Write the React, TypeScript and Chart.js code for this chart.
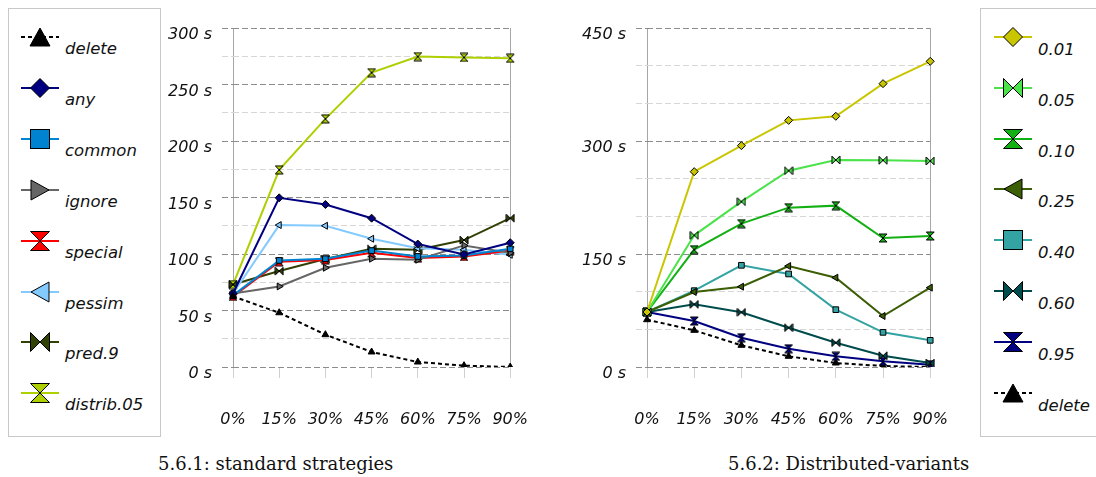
import React, { useEffect, useRef } from "react";
import { Chart, registerables } from "chart.js";
Chart.register(...registerables);

const xLabels = ["0%", "15%", "30%", "45%", "60%", "75%", "90%"];

// 5.6.1 standard strategies
const deleteVals = [62.5, 48, 28.6, 13.3, 4.4, 1.2, 0];
const anyVals = [65, 149.7, 143.8, 131.7, 108.8, 99.6, 110];
const commonVals = [63.4, 94.3, 95.8, 103, 97.8, 98.7, 104.6];
const ignoreVals = [65, 71.3, 87.8, 95.8, 94.9, 107.6, 101];
const specialVals = [62.5, 93.1, 94.6, 101, 96.4, 97.8, 103];
const pessimVals = [65, 125.6, 125, 113.5, 105, 103.7, 99.3];
const pred9Vals = [73, 84.9, 95.5, 104.6, 103.7, 112.3, 131.7];
const distrib05Vals = [73, 174.5, 219.6, 260.5, 274.7, 274, 273.2];

// 5.6.2 distributed variants
const v001 = [73, 259.3, 293.8, 327.4, 332.8, 376.1, 405.8];
const v005 = [73, 174.8, 219.5, 260.6, 274.8, 274.4, 273.5];
const v010 = [73, 155.8, 190.3, 211.5, 214.2, 171.3, 173.9];
const v025 = [73, 99.6, 106.6, 134, 118.6, 67.7, 105.3];
const v040 = [73, 101.3, 135, 123.5, 76.1, 46, 35.4];
const v060 = [73, 83.2, 72.6, 52.2, 32.3, 15, 5.3];
const v095 = [73, 61, 38.9, 24.3, 14.2, 7.5, 3.1];
const delete2Vals = [62.8, 48.7, 28.8, 14.2, 5.3, 1.3, 0];

const leftMax = 300;
const leftStep = 25;
const leftMajor = 50;
const rightMax = 450;
const rightStep = 50;
const rightMajor = 150;

type Shape = "triangle" | "diamond" | "square" | "right" | "left" | "hourglass" | "bowtie";

interface SeriesDef {
  label: string;
  data: number[];
  line: string;
  fill: string;
  shape: Shape;
  dashed?: boolean;
}

const leftSeries: SeriesDef[] = [
  { label: "delete", data: deleteVals, line: "#000000", fill: "#000000", shape: "triangle", dashed: true },
  { label: "any", data: anyVals, line: "#000080", fill: "#000080", shape: "diamond" },
  { label: "common", data: commonVals, line: "#0084d1", fill: "#0084d1", shape: "square" },
  { label: "ignore", data: ignoreVals, line: "#666666", fill: "#666666", shape: "right" },
  { label: "special", data: specialVals, line: "#ff0000", fill: "#ff0000", shape: "hourglass" },
  { label: "pessim", data: pessimVals, line: "#83caff", fill: "#83caff", shape: "left" },
  { label: "pred.9", data: pred9Vals, line: "#314004", fill: "#314004", shape: "bowtie" },
  { label: "distrib.05", data: distrib05Vals, line: "#aecf00", fill: "#aecf00", shape: "hourglass" },
];

const rightSeries: SeriesDef[] = [
  { label: "0.01", data: v001, line: "#c9c600", fill: "#c9c600", shape: "diamond" },
  { label: "0.05", data: v005, line: "#4ae34a", fill: "#4ae34a", shape: "bowtie" },
  { label: "0.10", data: v010, line: "#12b012", fill: "#12b012", shape: "hourglass" },
  { label: "0.25", data: v025, line: "#3c5e05", fill: "#3c5e05", shape: "left" },
  { label: "0.40", data: v040, line: "#33a3a3", fill: "#33a3a3", shape: "square" },
  { label: "0.60", data: v060, line: "#004c4c", fill: "#004c4c", shape: "bowtie" },
  { label: "0.95", data: v095, line: "#000080", fill: "#000080", shape: "hourglass" },
  { label: "delete", data: delete2Vals, line: "#000000", fill: "#000000", shape: "triangle", dashed: true },
];

const FONT = "'DejaVu Sans', sans-serif";

function makeMarker(kind: "hourglass" | "bowtie", fill: string, w: number, h: number) {
  const c = document.createElement("canvas");
  c.width = w + 2;
  c.height = h + 2;
  const ctx = c.getContext("2d")!;
  ctx.translate(1, 1);
  ctx.beginPath();
  if (kind === "hourglass") {
    ctx.moveTo(0, 0);
    ctx.lineTo(w, 0);
    ctx.lineTo(0, h);
    ctx.lineTo(w, h);
  } else {
    ctx.moveTo(0, 0);
    ctx.lineTo(0, h);
    ctx.lineTo(w, 0);
    ctx.lineTo(w, h);
  }
  ctx.closePath();
  ctx.fillStyle = fill;
  ctx.fill();
  ctx.lineWidth = 1;
  ctx.strokeStyle = "#000";
  ctx.stroke();
  return c;
}

function toDataset(s: SeriesDef, size: number) {
  let pointStyle: any = "circle";
  let rotation = 0;
  const radius = size;
  switch (s.shape) {
    case "triangle":
      pointStyle = "triangle";
      break;
    case "diamond":
      pointStyle = "rectRot";
      break;
    case "square":
      pointStyle = "rect";
      break;
    case "right":
      pointStyle = "triangle";
      rotation = 90;
      break;
    case "left":
      pointStyle = "triangle";
      rotation = -90;
      break;
    case "hourglass":
      pointStyle = makeMarker("hourglass", s.fill, size * 2, size * 2);
      break;
    case "bowtie":
      pointStyle = makeMarker("bowtie", s.fill, size * 2, size * 2);
      break;
  }
  return {
    label: s.label,
    data: s.data,
    borderColor: s.line,
    backgroundColor: s.fill,
    borderWidth: 2,
    borderDash: s.dashed ? [4, 3] : [],
    pointStyle,
    pointRotation: rotation,
    pointRadius: radius,
    pointHoverRadius: radius,
    pointBackgroundColor: s.fill,
    pointBorderColor: "#000",
    pointBorderWidth: 1,
    tension: 0,
    fill: false,
  };
}

function makeOptions(max: number, step: number, major: number, yWidth: number, padRight: number) {
  return {
    responsive: false,
    animation: false as const,
    events: [],
    layout: { autoPadding: false, padding: { top: 28, right: padRight, bottom: 13, left: 0 } },
    plugins: { legend: { display: false }, tooltip: { enabled: false }, title: { display: false } },
    scales: {
      x: {
        type: "category" as const,
        afterFit: (s: any) => {
          s.height = 60;
        },
        ticks: {
          padding: 32,
          maxRotation: 0,
          autoSkip: false,
          color: "#111",
          font: { family: FONT, size: 16, style: "italic" as const },
        },
        grid: {
          drawOnChartArea: true,
          drawTicks: true,
          tickLength: 11,
          color: (ctx: any) => (ctx.index === 0 || ctx.index === xLabels.length - 1 ? "#a6a6a6" : "rgba(0,0,0,0)"),
          tickColor: "#d0d0d0",
          lineWidth: 1,
        },
        border: { display: false },
      },
      y: {
        type: "linear" as const,
        min: 0,
        max,
        afterFit: (s: any) => {
          s.width = yWidth;
        },
        ticks: {
          stepSize: step,
          maxTicksLimit: 100,
          autoSkip: false,
          padding: 10,
          labelOffset: 7,
          color: "#111",
          font: { family: FONT, size: 16, style: "italic" as const },
          callback: (v: any) => (Number(v) % major === 0 ? `${v} s` : ""),
        },
        grid: {
          drawTicks: true,
          tickLength: 11,
          color: (ctx: any) => (ctx.tick && ctx.tick.value % major === 0 ? "#8c8c8c" : "#d6d6d6"),
          tickColor: (ctx: any) => (ctx.tick && ctx.tick.value % major === 0 ? "#8c8c8c" : "#d6d6d6"),
          tickBorderDash: [6, 3],
          lineWidth: 1,
        },
        border: { display: false, dash: [6, 3] },
      },
    },
  };
}

function LineChart(props: { series: SeriesDef[]; max: number; step: number; major: number; yWidth: number; padRight: number; width: number; height: number; left: number }) {
  const ref = useRef<HTMLCanvasElement | null>(null);
  useEffect(() => {
    if (!ref.current) return;
    const chart = new Chart(ref.current, {
      type: "line",
      data: { labels: xLabels, datasets: props.series.map((s) => toDataset(s, 4)) as any },
      options: makeOptions(props.max, props.step, props.major, props.yWidth, props.padRight) as any,
    });
    return () => chart.destroy();
  }, []);
  return (
    <canvas
      ref={ref}
      width={props.width}
      height={props.height}
      style={{ position: "absolute", left: props.left, top: 0, width: props.width, height: props.height }}
    />
  );
}

function Symbol(props: { s: SeriesDef }) {
  const { s } = props;
  const cx = 20;
  const cy = 11;
  const r = 9.5;
  let shape: React.ReactNode = null;
  const common = { fill: s.fill, stroke: "#000", strokeWidth: 1 };
  switch (s.shape) {
    case "triangle":
      shape = <polygon points={`${cx - 10},${cy + 9} ${cx},${cy - 9} ${cx + 10},${cy + 9}`} {...common} />;
      break;
    case "diamond":
      shape = <polygon points={`${cx},${cy - r} ${cx + r},${cy} ${cx},${cy + r} ${cx - r},${cy}`} {...common} />;
      break;
    case "square":
      shape = <rect x={cx - r} y={cy - r} width={2 * r} height={2 * r} {...common} />;
      break;
    case "right":
      shape = <polygon points={`${cx - 9},${cy - 10} ${cx + 9},${cy} ${cx - 9},${cy + 10}`} {...common} />;
      break;
    case "left":
      shape = <polygon points={`${cx + 9},${cy - 10} ${cx - 9},${cy} ${cx + 9},${cy + 10}`} {...common} />;
      break;
    case "hourglass":
      shape = <polygon points={`${cx - r},${cy - r} ${cx + r},${cy - r} ${cx - r},${cy + r} ${cx + r},${cy + r}`} {...common} />;
      break;
    case "bowtie":
      shape = <polygon points={`${cx - r},${cy - r} ${cx - r},${cy + r} ${cx + r},${cy - r} ${cx + r},${cy + r}`} {...common} />;
      break;
  }
  return (
    <svg width={40} height={22} style={{ position: "absolute", left: 0, top: 0, overflow: "visible" }}>
      <line x1={1} y1={cy} x2={39} y2={cy} stroke={s.line} strokeWidth={2} strokeDasharray={s.dashed ? "4 3" : undefined} />
      {shape}
    </svg>
  );
}

function Legend(props: { series: SeriesDef[]; left: number; width: number; symLeft: number; textLeft: number; firstY: number; gap: number; textDy: number }) {
  return (
    <div
      style={{
        position: "absolute",
        left: props.left,
        top: 8,
        width: props.width,
        height: 429,
        border: "1px solid #c8c8c8",
        boxSizing: "border-box",
        background: "#fff",
      }}
    >
      {props.series.map((s, i) => {
        const cy = props.firstY + i * props.gap - 8;
        return (
          <div key={s.label} style={{ position: "absolute", left: 0, top: 0 }}>
            <div style={{ position: "absolute", left: props.symLeft, top: cy - 11 }}>
              <Symbol s={s} />
            </div>
            <div
              style={{
                position: "absolute",
                left: props.textLeft,
                top: cy + props.textDy - 10,
                height: 20,
                lineHeight: "20px",
                fontFamily: FONT,
                fontStyle: "italic",
                fontSize: 16.5,
                color: "#111",
                whiteSpace: "nowrap",
              }}
            >
              {s.label}
            </div>
          </div>
        );
      })}
    </div>
  );
}

const captionStyle: React.CSSProperties = {
  position: "absolute",
  top: 454,
  height: 20,
  lineHeight: "20px",
  fontFamily: "'DejaVu Serif', serif",
  fontSize: 18,
  color: "#111",
  whiteSpace: "nowrap",
};

export default function App() {
  return (
    <div style={{ position: "absolute", left: 0, top: 0, width: 1096, height: 477, background: "#fff", overflow: "hidden" }}>
      <Legend series={leftSeries} left={8} width={153} symLeft={11} textLeft={56} firstY={36} gap={50.9} textDy={12} />
      <LineChart series={leftSeries} max={leftMax} step={leftStep} major={leftMajor} yWidth={73} padRight={37} width={400} height={440} left={160} />
      <LineChart series={rightSeries} max={rightMax} step={rightStep} major={rightMajor} yWidth={87} padRight={28} width={420} height={440} left={560} />
      <Legend series={rightSeries} left={980} width={130} symLeft={12} textLeft={57} firstY={36} gap={50.8} textDy={13} />
      <div style={{ ...captionStyle, left: 158 }}>5.6.1: standard strategies</div>
      <div style={{ ...captionStyle, left: 728 }}>5.6.2: Distributed-variants</div>
    </div>
  );
}
